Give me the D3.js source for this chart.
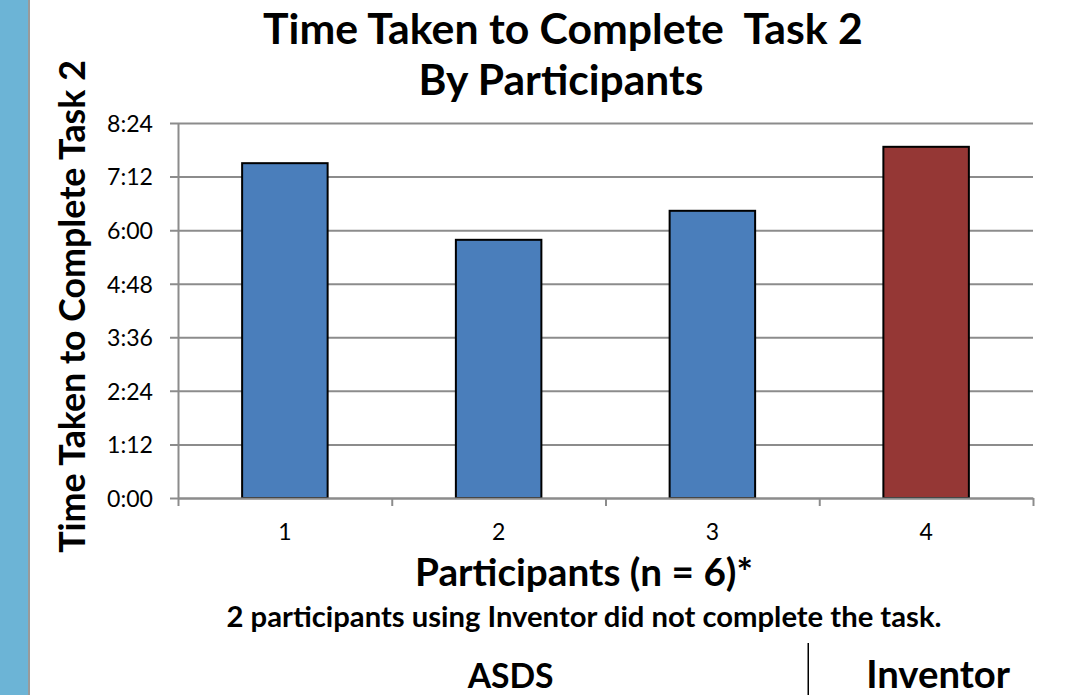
<!DOCTYPE html>
<html>
<head>
<meta charset="utf-8">
<script src="https://cdn.jsdelivr.net/npm/d3@7"></script>
<style>
  body { margin: 0; background: #fff; }
  text { font-family: Lato, "Open Sans", sans-serif; fill: #000; }
</style>
</head>
<body>
<script>
// data, times are in seconds
var participants = ['1', '2', '3', '4'];
var times = [450, 347, 386, 472];
var groups = ['ASDS', 'ASDS', 'ASDS', 'Inventor'];
var groupNames = ['ASDS', 'Inventor'];
var yTickLabels = ['0:00', '1:12', '2:24', '3:36', '4:48', '6:00', '7:12', '8:24'];

var colors = { 'ASDS': '#4a7ebb', 'Inventor': '#953735' };

var svgWidth = 1065, svgHeight = 695;
var plotLeft = 178, plotRight = 1033, plotTop = 123, plotBottom = 498;

function toSeconds(s) {
  var p = s.split(':');
  return +p[0] * 60 + +p[1];
}
function fmt(sec) {
  var m = Math.floor(sec / 60), s = sec % 60;
  return m + ':' + (s < 10 ? '0' : '') + s;
}

// shrink/grow the font so the text covers a given width
function fitWidth(sel, w) {
  var fs = parseFloat(sel.style('font-size'));
  var len = sel.node().getComputedTextLength();
  sel.style('font-size', (fs * w / len) + 'px');
  return sel;
}

var svg = d3.select('body').append('svg')
  .attr('width', svgWidth).attr('height', svgHeight);

// slide side strip
svg.append('rect').attr('x', 0).attr('y', 0).attr('width', 28).attr('height', svgHeight)
  .attr('fill', '#6cb4d6');
svg.append('line').attr('x1', 29).attr('x2', 29).attr('y1', 0).attr('y2', svgHeight)
  .attr('stroke', '#9a9a9a').attr('stroke-width', 2);

var yTickValues = yTickLabels.map(toSeconds);

var x = d3.scaleBand().domain(participants).range([plotLeft, plotRight]).padding(0);
var xEdge = d3.scaleLinear().domain([0, participants.length]).range([plotLeft, plotRight]);
var y = d3.scaleLinear().domain([0, d3.max(yTickValues)]).range([plotBottom, plotTop]);

// gridlines (they also start 8px left of the axis, like tick marks)
var grid = svg.append('g').attr('transform', 'translate(' + (plotLeft - 8) + ',0)')
  .call(d3.axisRight(y).tickValues(yTickValues).tickSize(plotRight - plotLeft + 8).tickFormat(''));
grid.select('.domain').remove();
grid.selectAll('line').attr('stroke', '#8c8c8c').attr('stroke-width', 2);

// y axis
var yAxis = svg.append('g').attr('transform', 'translate(' + plotLeft + ',0)')
  .call(d3.axisLeft(y).tickValues(yTickValues).tickFormat(fmt).tickSize(0).tickPadding(25));
yAxis.select('.domain').attr('stroke', '#8c8c8c').attr('stroke-width', 2);
yAxis.selectAll('text').style('font-family', 'Lato, sans-serif').style('font-size', '22px')
  .attr('dy', '0.36em');
var probe = yAxis.selectAll('text').filter(function (d) { return d === d3.max(yTickValues); });
fitWidth(probe, 46);
yAxis.selectAll('text').style('font-size', probe.style('font-size'));

// bars
svg.selectAll('rect.bar')
  .data(times)
  .enter()
  .append('rect')
  .attr('class', 'bar')
  .attr('x', function (d, i) { return x(participants[i]) + x.bandwidth() * 0.3; })
  .attr('width', x.bandwidth() * 0.4)
  .attr('y', function (d) { return y(d); })
  .attr('height', function (d) { return y(0) - y(d); })
  .attr('fill', function (d, i) { return colors[groups[i]]; })
  .attr('stroke', '#000')
  .attr('stroke-width', 2);

// x axis line + boundary ticks
var xAxis = svg.append('g').attr('transform', 'translate(0,' + plotBottom + ')')
  .call(d3.axisBottom(xEdge).tickValues(d3.range(participants.length + 1)).tickFormat('')
    .tickSize(8).tickSizeOuter(0));
xAxis.select('.domain').attr('stroke', '#8c8c8c').attr('stroke-width', 2);
xAxis.selectAll('line').attr('stroke', '#8c8c8c').attr('stroke-width', 2);

var xLabels = svg.append('g').attr('transform', 'translate(0,' + plotBottom + ')')
  .call(d3.axisBottom(x).tickSize(0).tickPadding(26));
xLabels.attr('font-size', 23).attr('font-family', 'Lato, sans-serif');
xLabels.select('.domain').remove();
xLabels.selectAll('text').attr('font-size', 23).style('font-size', '23px');

// titles
var t1 = svg.append('text').attr('x', 563).attr('y', 44).attr('text-anchor', 'middle')
  .style('font-weight', 'bold').style('font-size', '36px').style('white-space', 'pre')
  .text('Time Taken to Complete  Task 2');
fitWidth(t1, 600);
var t2 = svg.append('text').attr('x', 561).attr('y', 95).attr('text-anchor', 'middle')
  .style('font-weight', 'bold').style('font-size', '36px')
  .text('By Participants');
fitWidth(t2, 285);

var yt = svg.append('text')
  .attr('transform', 'translate(85,' + ((plotTop + plotBottom) / 2 - 4) + ') rotate(-90)')
  .attr('text-anchor', 'middle')
  .style('font-weight', 'bold').style('font-size', '30px')
  .text('Time Taken to Complete Task 2');
fitWidth(yt, 493);

var xt = svg.append('text').attr('x', 584).attr('y', 586).attr('text-anchor', 'middle')
  .style('font-weight', 'bold').style('font-size', '30px')
  .text('Participants (n = 6)*');
fitWidth(xt, 338);

var note = svg.append('text').attr('x', 584).attr('y', 627).attr('text-anchor', 'middle')
  .style('font-weight', 'bold').style('font-size', '24px')
  .text('2 participants using Inventor did not complete the task.');
fitWidth(note, 715);

// group labels under the chart
var groupWidths = { 'ASDS': 86, 'Inventor': 144 };
groupNames.forEach(function (g) {
  var idx = participants.filter(function (p, i) { return groups[i] === g; });
  var x0 = x(idx[0]), x1 = x(idx[idx.length - 1]) + x.bandwidth();
  var gt = svg.append('text').attr('x', (x0 + x1) / 2 + 12).attr('y', 688)
    .attr('text-anchor', 'middle')
    .style('font-weight', 'bold').style('font-size', '30px')
    .text(g);
  fitWidth(gt, groupWidths[g]);
});
var split = x(participants[groups.indexOf('Inventor')]);
svg.append('line').attr('x1', split - 11).attr('x2', split - 11).attr('y1', 643).attr('y2', svgHeight)
  .attr('stroke', '#000').attr('stroke-width', 1.5);
</script>
</body>
</html>
